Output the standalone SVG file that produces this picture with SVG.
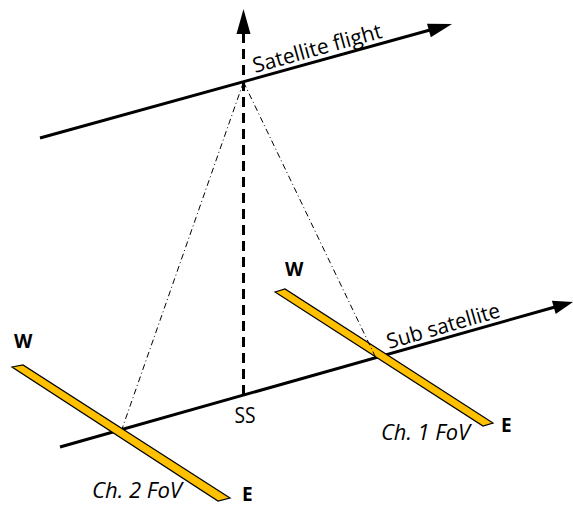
<svg xmlns="http://www.w3.org/2000/svg" width="573" height="507" viewBox="0 0 573 507">
<style>
.ln{stroke:#000;stroke-width:3;fill:none}
.dash{stroke:#000;stroke-width:3;fill:none;stroke-dasharray:10 6}
.dd{stroke:#000;stroke-width:1;fill:none;stroke-dasharray:6 3 1 3}
.ah{fill:#000;stroke:none}
.bar{fill:#FFC000;stroke:#000;stroke-width:1.2;stroke-linejoin:miter}
.t{font-family:"Open Sans","Noto Sans","Liberation Sans",sans-serif;font-size:21px;fill:#000}
.ti{font-family:"Open Sans","Noto Sans","Liberation Sans",sans-serif;font-size:21px;font-style:italic;fill:#000}
.tb{font-family:"Open Sans","Noto Sans","Liberation Sans",sans-serif;font-size:19px;font-weight:bold;fill:#000}
</style>
<rect width="573" height="507" fill="#fff"/>
<g id="connectors">
  <line id="satellite-flight" class="ln" x1="40" y1="138" x2="430" y2="30"/>
  <polygon class="ah" points="452,24 427,23.7 430.8,37.2"/>
  <line id="sub-satellite" class="ln" x1="60" y1="447" x2="555" y2="307"/>
  <polygon class="ah" points="573,302 551.9,300.7 555.7,314.1"/>
  <line id="nadir" class="dash" x1="243.5" y1="395" x2="243.5" y2="33"/>
  <polygon class="ah" points="243.5,9 236.5,34 250.5,34"/>
</g>
<g id="ch2-fov">
  <polygon class="bar" points="12,367 23,365 230,498 218,501"/>
  <text class="tb" x="14" y="348">W</text>
  <text class="tb" x="242" y="501">E</text>
  <text class="ti" x="92" y="498" textLength="90" lengthAdjust="spacingAndGlyphs">Ch. 2 FoV</text>
</g>
<g id="ch1-fov">
  <polygon class="bar" points="275,292 285,289 493,423 483,426"/>
  <text class="tb" x="285" y="276">W</text>
  <text class="tb" x="501" y="432">E</text>
  <text class="ti" x="381" y="440" textLength="89" lengthAdjust="spacingAndGlyphs">Ch. 1 FoV</text>
</g>
<g id="fov-lines">
  <line class="dd" x1="243.5" y1="82" x2="122" y2="429"/>
  <line class="dd" x1="243.5" y1="82" x2="375" y2="356"/>
</g>
<g id="labels">
  <text class="t" transform="translate(255,73) rotate(-15.5)" textLength="133" lengthAdjust="spacingAndGlyphs">Satellite flight</text>
  <text class="t" transform="translate(389,349) rotate(-16)" textLength="117" lengthAdjust="spacingAndGlyphs">Sub satellite</text>
  <text class="t" x="245" y="423" text-anchor="middle" textLength="21" lengthAdjust="spacingAndGlyphs">SS</text>
</g>
</svg>
